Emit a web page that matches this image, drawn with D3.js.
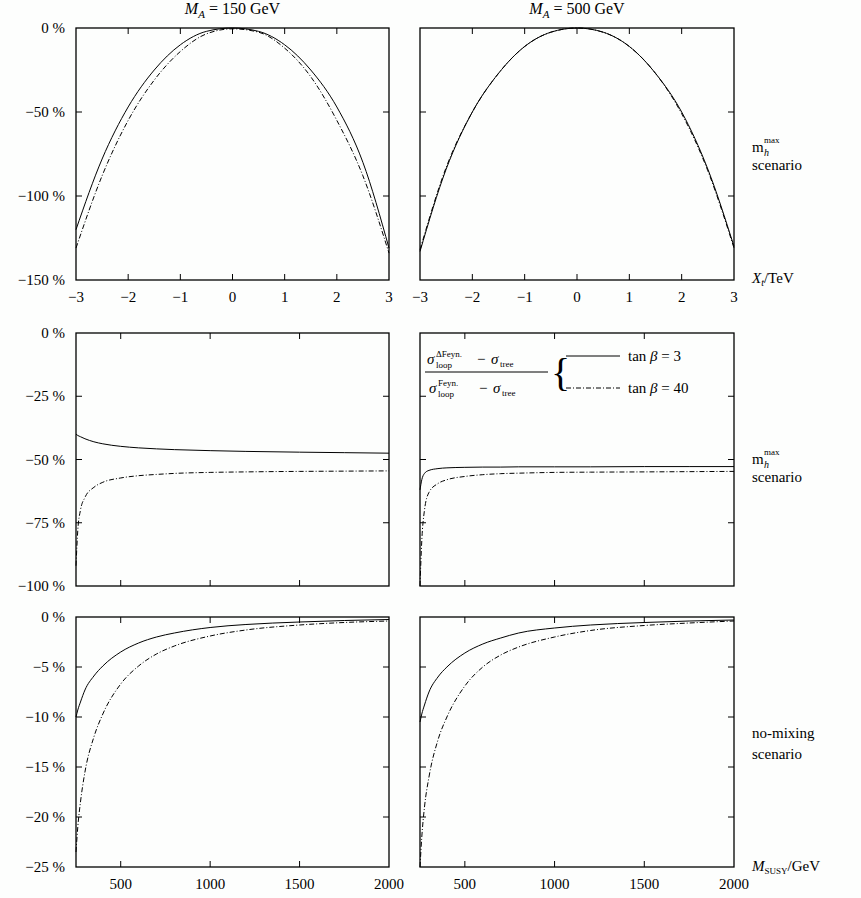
<!DOCTYPE html>
<html>
<head>
<meta charset="utf-8">
<script src="https://cdn.jsdelivr.net/npm/d3@7"></script>
<style>
  body { margin: 0; background: #fdfefd; }
  text { font-family: "Liberation Serif", "DejaVu Serif", serif; fill: #000; }
</style>
</head>
<body>
<svg id="chart" width="861" height="898"></svg>
<script>
// ---- data ----
const xtVals = [-3, -2.5, -2, -1.5, -1, -0.5, 0, 0.5, 1, 1.5, 2, 2.5, 3];
const topL_tb3  = [-120, -78, -47, -25, -10, -2, 0, -2, -10, -25, -47, -80, -131];
const topL_tb40 = [-131, -88, -55, -31, -14, -3.5, -0.5, -2.5, -12, -29, -55, -88, -134];
const topR_tb3  = [-133, -84, -50, -27, -11, -2.5, 0, -2.5, -11, -27, -50, -84, -130];
const topR_tb40 = [-132, -83, -50, -27, -11, -2.5, 0, -2.5, -11, -27, -51, -85, -131];

const msusyVals = [250, 260, 275, 300, 350, 400, 500, 600, 700, 800, 1000, 1200, 1500, 1750, 2000];
const midL_tb3  = [-40, -40.5, -41, -41.8, -43, -43.8, -44.8, -45.4, -45.8, -46.1, -46.5, -46.8, -47.1, -47.3, -47.5];
const midL_tb40 = [-92, -78, -70, -65, -61, -59, -57.3, -56.4, -55.9, -55.5, -55.1, -54.9, -54.7, -54.6, -54.5];
const midR_tb3  = [-62, -58, -55.5, -54.3, -53.6, -53.3, -53.1, -53, -53, -52.9, -52.9, -52.9, -52.8, -52.8, -52.8];
const midR_tb40 = [-100, -82, -70, -63, -59.5, -58, -56.7, -56, -55.6, -55.4, -55.1, -55, -54.9, -54.8, -54.7];
const botL_tb3  = [-10, -9.3, -8.5, -7.3, -5.9, -4.9, -3.5, -2.6, -2.0, -1.6, -1.05, -0.75, -0.5, -0.35, -0.25];
const botL_tb40 = [-23.5, -21, -18.5, -15.5, -12, -9.7, -6.7, -4.9, -3.7, -2.9, -1.9, -1.3, -0.8, -0.55, -0.4];
const botR_tb3  = [-10.5, -9.7, -8.8, -7.5, -6, -5, -3.6, -2.7, -2.1, -1.6, -1.1, -0.8, -0.55, -0.4, -0.3];
const botR_tb40 = [-25, -22, -19, -16, -12.3, -10, -6.9, -5, -3.8, -3, -2, -1.35, -0.85, -0.6, -0.4];

const xtTicks = [-3, -2, -1, 0, 1, 2, 3];
const msusyTicks = [500, 1000, 1500, 2000];
const topYTicks = [0, -50, -100, -150];
const midYTicks = [0, -25, -50, -75, -100];
const botYTicks = [0, -5, -10, -15, -20, -25];
const colTitles = ["150", "500"];
const tanbLabels = ["3", "40"];

const svg = d3.select('#chart');

// column and row frames (pixels)
const cols = [[76, 389], [420, 734]];
const rows = [
  {y: [28, 280], dom: [-150, 0], yt: topYTicks, xdom: [-3, 3], xt: xtTicks, xlab: true,
   data: [[topL_tb3, topL_tb40], [topR_tb3, topR_tb40]], xs: xtVals},
  {y: [333, 586], dom: [-100, 0], yt: midYTicks, xdom: [250, 2000], xt: msusyTicks, xlab: false,
   data: [[midL_tb3, midL_tb40], [midR_tb3, midR_tb40]], xs: msusyVals},
  {y: [617, 867], dom: [-25, 0], yt: botYTicks, xdom: [250, 2000], xt: msusyTicks, xlab: true,
   data: [[botL_tb3, botL_tb40], [botR_tb3, botR_tb40]], xs: msusyVals}
];

const minus = s => String(s).replace('-', '\u2212');
const tk = 6;
const dashDot = '5,2,1,2';

rows.forEach((row, ri) => {
  cols.forEach((c, ci) => {
    const x = d3.scaleLinear().domain(row.xdom).range(c);
    const y = d3.scaleLinear().domain(row.dom).range([row.y[1], row.y[0]]);
    const g = svg.append('g');

    // inward ticks on all four sides
    row.xt.forEach(t => {
      if (t === row.xdom[0] || t === row.xdom[1]) return;
      g.append('line').attr('x1', x(t)).attr('x2', x(t)).attr('y1', row.y[1]).attr('y2', row.y[1] - tk).attr('stroke', '#000');
      g.append('line').attr('x1', x(t)).attr('x2', x(t)).attr('y1', row.y[0]).attr('y2', row.y[0] + tk).attr('stroke', '#000');
    });
    row.yt.forEach(t => {
      if (t === row.dom[0] || t === row.dom[1]) return;
      g.append('line').attr('x1', c[0]).attr('x2', c[0] + tk).attr('y1', y(t)).attr('y2', y(t)).attr('stroke', '#000');
      g.append('line').attr('x1', c[1]).attr('x2', c[1] - tk).attr('y1', y(t)).attr('y2', y(t)).attr('stroke', '#000');
    });

    if (row.xlab) {
      g.selectAll('text.xt').data(row.xt).enter().append('text')
        .attr('x', d => x(d)).attr('y', row.y[1] + 22)
        .attr('text-anchor', 'middle').attr('font-size', 15)
        .text(d => minus(d));
    }
    if (ci === 0) {
      g.selectAll('text.yt').data(row.yt).enter().append('text')
        .attr('x', 65).attr('y', d => y(d) + 5)
        .attr('text-anchor', 'end').attr('font-size', 15)
        .text(d => minus(d) + ' %');
    }

    const line = d3.line()
      .x((d, i) => x(row.xs[i]))
      .y(d => y(d))
      .curve(d3.curveMonotoneX);
    g.append('path').datum(row.data[ci][0])
      .attr('d', line).attr('fill', 'none').attr('stroke', '#000').attr('stroke-width', 1);
    g.append('path').datum(row.data[ci][1])
      .attr('d', line).attr('fill', 'none').attr('stroke', '#000').attr('stroke-width', 1)
      .attr('stroke-dasharray', dashDot);

    g.append('rect').attr('x', c[0]).attr('y', row.y[0])
      .attr('width', c[1] - c[0]).attr('height', row.y[1] - row.y[0])
      .attr('fill', 'none').attr('stroke', '#000').attr('stroke-width', 1.3);
  });
});

// column titles
colTitles.forEach((t, i) => {
  const tx = svg.append('text').attr('x', (cols[i][0] + cols[i][1]) / 2).attr('y', 14)
    .attr('text-anchor', 'middle').attr('font-size', 16);
  tx.append('tspan').attr('font-style', 'italic').text('M');
  tx.append('tspan').attr('font-style', 'italic').attr('font-size', 11).attr('dy', 4).text('A');
  tx.append('tspan').attr('dy', -4).text(' = ' + t + ' GeV');
});

// axis names
const xtLab = svg.append('text').attr('x', 752).attr('y', 283).attr('font-size', 15);
xtLab.append('tspan').attr('font-style', 'italic').text('X');
xtLab.append('tspan').attr('font-style', 'italic').attr('font-size', 10).attr('dy', 3).text('t');
xtLab.append('tspan').attr('dy', -3).text('/TeV');

const msLab = svg.append('text').attr('x', 752).attr('y', 871).attr('font-size', 15);
msLab.append('tspan').attr('font-style', 'italic').text('M');
msLab.append('tspan').attr('font-size', 9).attr('dy', 3).text('SUSY');
msLab.append('tspan').attr('dy', -3).text('/GeV');

// scenario labels
function mhmax(yy) {
  svg.append('text').attr('x', 752).attr('y', yy).attr('font-size', 15).text('m');
  svg.append('text').attr('x', 764).attr('y', yy - 9).attr('font-size', 9).text('max');
  svg.append('text').attr('x', 764).attr('y', yy + 4).attr('font-size', 10).attr('font-style', 'italic').text('h');
  svg.append('text').attr('x', 752).attr('y', yy + 18).attr('font-size', 15).text('scenario');
}
mhmax(152);
mhmax(464);
svg.append('text').attr('x', 752).attr('y', 738).attr('font-size', 15).text('no-mixing');
svg.append('text').attr('x', 752).attr('y', 759).attr('font-size', 15).text('scenario');

// legend in middle-right panel
const lg = svg.append('g');
function sigmaTerm(xx, yy, sup, sub) {
  lg.append('text').attr('x', xx).attr('y', yy).attr('font-size', 15).attr('font-style', 'italic').text('σ');
  lg.append('text').attr('x', xx + 9).attr('y', yy - 7).attr('font-size', 9).text(sup);
  lg.append('text').attr('x', xx + 9).attr('y', yy + 4).attr('font-size', 9).text(sub);
  lg.append('text').attr('x', xx + 50).attr('y', yy).attr('font-size', 15).text('−');
  lg.append('text').attr('x', xx + 64).attr('y', yy).attr('font-size', 15).attr('font-style', 'italic').text('σ');
  lg.append('text').attr('x', xx + 73).attr('y', yy + 3).attr('font-size', 9).text('tree');
}
sigmaTerm(427, 364, 'ΔFeyn.', 'loop');
lg.append('line').attr('x1', 425).attr('x2', 548).attr('y1', 372).attr('y2', 372).attr('stroke', '#000');
sigmaTerm(429, 393, 'Feyn.', 'loop');
lg.append('text').attr('x', 551).attr('y', 386).attr('font-size', 40).text('{');
lg.append('line').attr('x1', 566).attr('x2', 620).attr('y1', 356).attr('y2', 356).attr('stroke', '#000');
lg.append('line').attr('x1', 566).attr('x2', 620).attr('y1', 388).attr('y2', 388).attr('stroke', '#000')
  .attr('stroke-dasharray', dashDot);
tanbLabels.forEach((v, i) => {
  const t = lg.append('text').attr('x', 628).attr('y', 361 + i * 32).attr('font-size', 15);
  t.append('tspan').text('tan ');
  t.append('tspan').attr('font-style', 'italic').text('β');
  t.append('tspan').text(' = ' + v);
});
</script>
</body>
</html>
